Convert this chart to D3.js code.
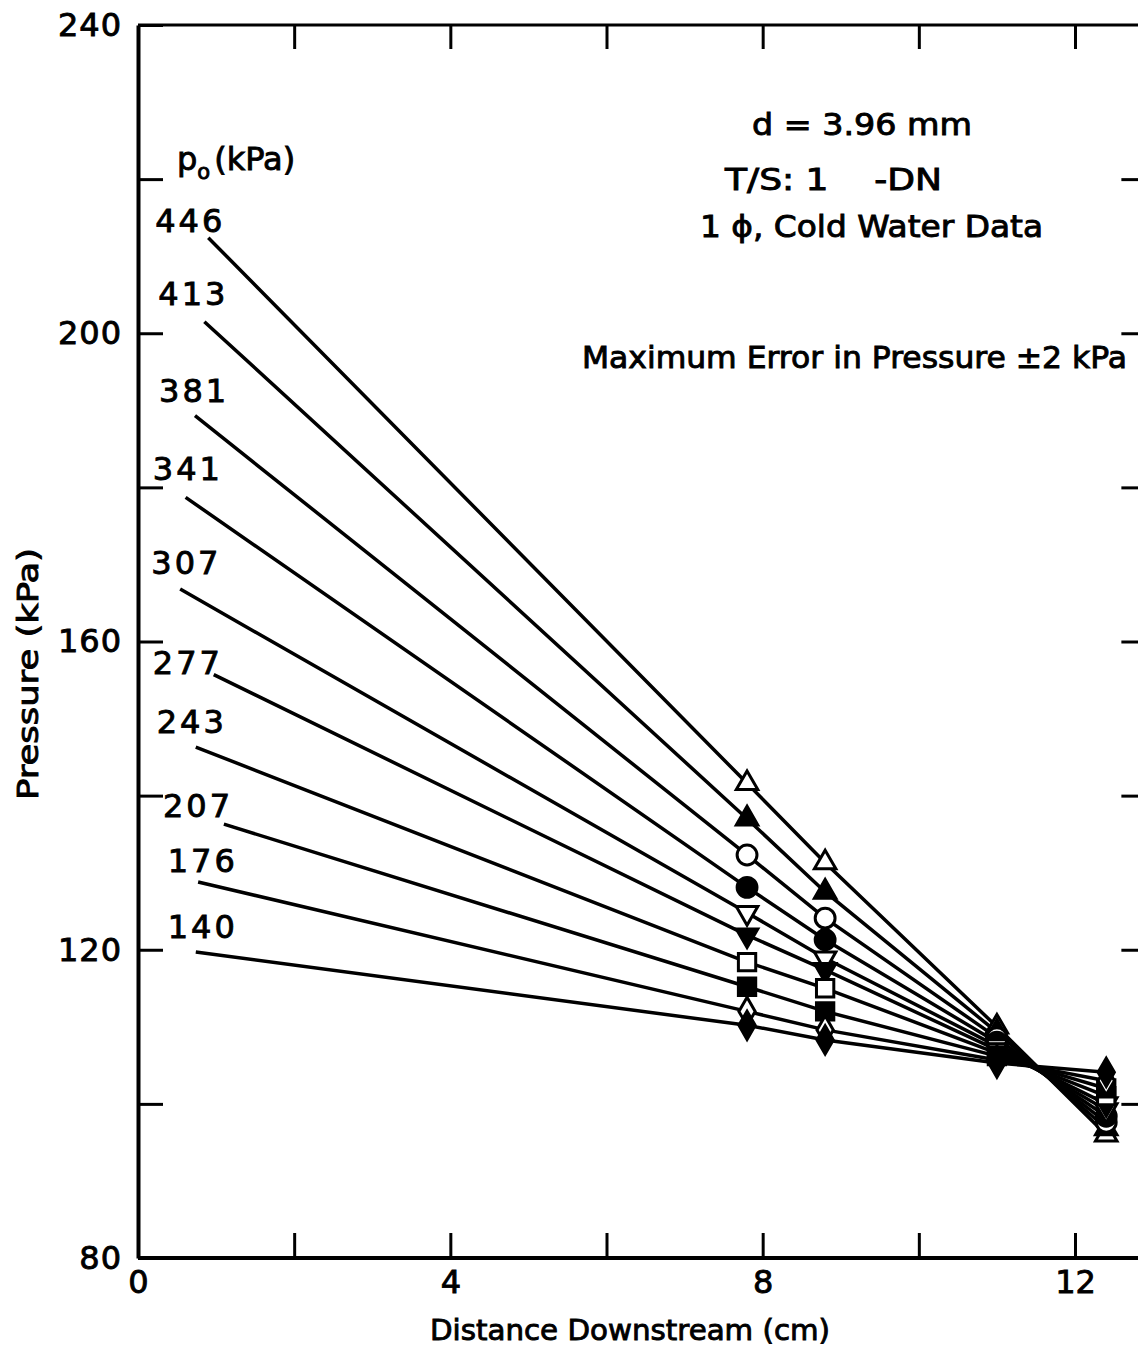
<!DOCTYPE html>
<html>
<head>
<meta charset="utf-8">
<title>Pressure vs distance downstream</title>
<script src="https://d3js.org/d3.v7.min.js"></script>
<style>
  body { margin: 0; background: #fff; }
  svg text { font-family: "DejaVu Sans", sans-serif; fill: #000; stroke: #000; stroke-width: 0.9px; }
  .axis path, .axis line { stroke: #000; }
</style>
</head>
<body>
<svg id="chart" width="1138" height="1349"></svg>
<script>
"use strict";

// inlet pressure p0 (kPa) for each line, top to bottom
const pressures = [446, 413, 381, 341, 307, 277, 243, 207, 176, 140];
// where each line starts (next to its label)
const startX = [0.90, 0.85, 0.73, 0.61, 0.54, 0.97, 0.74, 1.10, 0.77, 0.74];
const startP = [212.4, 201.5, 189.3, 178.7, 166.8, 155.7, 146.3, 136.3, 128.8, 119.7];
// measuring stations (cm) and measured pressure (kPa) at each
const stations = [7.8, 8.8, 11.0, 12.4];
const pAt78  = [141.6, 137.0, 132.3, 128.1, 124.8, 121.9, 118.4, 115.2, 112.0, 110.2];
const pAt88  = [131.3, 127.5, 124.1, 121.3, 118.9, 117.4, 115.0, 112.0, 109.6, 108.3];
const pAt110 = [110.0, 109.3, 108.6, 108.0, 107.5, 107.0, 106.6, 106.2, 105.7, 105.3];
const pAt124 = [96.0, 96.8, 97.6, 98.4, 99.2, 100.0, 101.0, 102.0, 103.0, 104.1];
// label positions for the p0 numbers (data units)
const labelX = [0.22, 0.26, 0.27, 0.19, 0.17, 0.19, 0.24, 0.32, 0.38, 0.38];
const labelP = [213.2, 203.7, 191.1, 181.0, 168.8, 155.8, 148.1, 137.2, 130.1, 121.5];
const markerShapes = ["tri", "tri", "circle", "circle", "tridown", "tridown", "square", "square", "diamond", "diamond"];
const markerFilled = [false, true, false, true, false, true, false, true, false, true];

const svg = d3.select("#chart");

const x = d3.scaleLinear().domain([0, 12]).range([138, 1075]);
const y = d3.scaleLinear().domain([80, 240]).range([1258, 25]);
const xRight = 12.85;

const xTicks = [0, 2, 4, 6, 8, 10, 12];
const yTicks = d3.range(80, 241, 20);

// top frame line
svg.append("line")
    .attr("x1", x(0)).attr("x2", x(xRight))
    .attr("y1", y(240)).attr("y2", y(240))
    .attr("stroke", "#000").attr("stroke-width", 3);

// bottom axis
const gx = svg.append("g").attr("class", "axis")
    .attr("transform", `translate(0,${y(80)})`)
    .call(d3.axisBottom(x).tickValues(xTicks).tickSize(-25).tickSizeOuter(0).tickPadding(12)
        .tickFormat(d => d % 4 === 0 ? d : ""));
gx.select(".domain").attr("d", `M${x(0)},0H${x(xRight)}`).attr("stroke-width", 4);
gx.selectAll(".tick line").attr("stroke-width", 3);
gx.selectAll(".tick text").attr("font-size", 32);

// top ticks
const gt = svg.append("g").attr("class", "axis")
    .attr("transform", `translate(0,${y(240)})`)
    .call(d3.axisTop(x).tickValues(xTicks.slice(1)).tickSize(-24).tickSizeOuter(0).tickFormat(""));
gt.select(".domain").remove();
gt.selectAll(".tick line").attr("stroke-width", 3);

// left axis
const gy = svg.append("g").attr("class", "axis")
    .attr("transform", `translate(${x(0)},0)`)
    .call(d3.axisLeft(y).tickValues(yTicks).tickSize(-25).tickSizeOuter(0).tickPadding(16)
        .tickFormat(d => d % 40 === 0 ? d : ""));
gy.select(".domain").attr("stroke-width", 4);
gy.selectAll(".tick line").attr("stroke-width", 3);
gy.selectAll(".tick text").attr("font-size", 32).attr("letter-spacing", 1);

// right ticks
const gr = svg.append("g").attr("class", "axis")
    .attr("transform", `translate(${x(xRight)},0)`)
    .call(d3.axisRight(y).tickValues(yTicks.slice(1, -1)).tickSize(-20).tickSizeOuter(0).tickFormat(""));
gr.select(".domain").remove();
gr.selectAll(".tick line").attr("stroke-width", 3);

// axis titles
svg.append("text")
    .attr("transform", `translate(38,674) rotate(-90)`)
    .attr("text-anchor", "middle")
    .attr("font-size", 28)
    .attr("textLength", 252).attr("lengthAdjust", "spacingAndGlyphs")
    .text("Pressure (kPa)");
svg.append("text")
    .attr("x", 630).attr("y", 1340)
    .attr("text-anchor", "middle")
    .attr("font-size", 29)
    .attr("textLength", 400).attr("lengthAdjust", "spacingAndGlyphs")
    .text("Distance Downstream (cm)");

// lines
const line = d3.line().x(d => x(d[0])).y(d => y(d[1]));
const series = pressures.map((p, i) => ({
    p,
    pts: [[startX[i], startP[i]],
          [stations[0], pAt78[i]], [stations[1], pAt88[i]],
          [stations[2], pAt110[i]], [stations[3], pAt124[i]]]
}));

svg.append("g").selectAll("path")
    .data(series)
    .join("path")
    .attr("d", d => line(d.pts))
    .attr("fill", "none")
    .attr("stroke", "#000")
    .attr("stroke-width", 3.5);

// markers
const symbolFor = {
    tri: d3.symbol().type(d3.symbolTriangle).size(200),
    tridown: d3.symbol().type(d3.symbolTriangle).size(200),
    circle: d3.symbol().type(d3.symbolCircle).size(310),
    square: d3.symbol().type(d3.symbolSquare).size(300),
    diamond: d3.symbol().type(d3.symbolDiamond).size(230)
};
const markers = [];
series.forEach((s, i) => {
    s.pts.slice(1).forEach(pt => markers.push({ x: pt[0], p: pt[1], i }));
});
svg.append("g").selectAll("path")
    .data(markers)
    .join("path")
    .attr("d", d => symbolFor[markerShapes[d.i]]())
    .attr("transform", d => `translate(${x(d.x)},${y(d.p)})` +
        (markerShapes[d.i] === "tridown" ? " rotate(180)" : ""))
    .attr("fill", d => markerFilled[d.i] ? "#000" : "#fff")
    .attr("stroke", "#000")
    .attr("stroke-width", 3);

// p0 header
svg.append("text")
    .attr("x", 177).attr("y", 170)
    .attr("font-size", 32)
    .html('p<tspan font-size="21" dy="9">o</tspan><tspan dy="-9" dx="4">(kPa)</tspan>');

svg.append("g").selectAll("text")
    .data(pressures)
    .join("text")
    .attr("x", (d, i) => x(labelX[i]))
    .attr("y", (d, i) => y(labelP[i]))
    .attr("font-size", 32)
    .attr("letter-spacing", 3)
    .text(d => d);

// annotations
const notes = [
    { t: "d = 3.96 mm", x: 752, y: 135, w: 220 },
    { t: "T/S: 1    -DN", x: 725, y: 190, w: 217 },
    { t: "1 \u03d5, Cold Water Data", x: 700, y: 237, w: 343 },
    { t: "Maximum Error in Pressure \u00b12 kPa", x: 582, y: 368, w: 545 }
];
svg.append("g").selectAll("text")
    .data(notes)
    .join("text")
    .attr("x", d => d.x).attr("y", d => d.y)
    .attr("font-size", 30)
    .style("white-space", "pre")
    .attr("textLength", d => d.w)
    .attr("lengthAdjust", "spacingAndGlyphs")
    .text(d => d.t);
</script>
</body>
</html>
